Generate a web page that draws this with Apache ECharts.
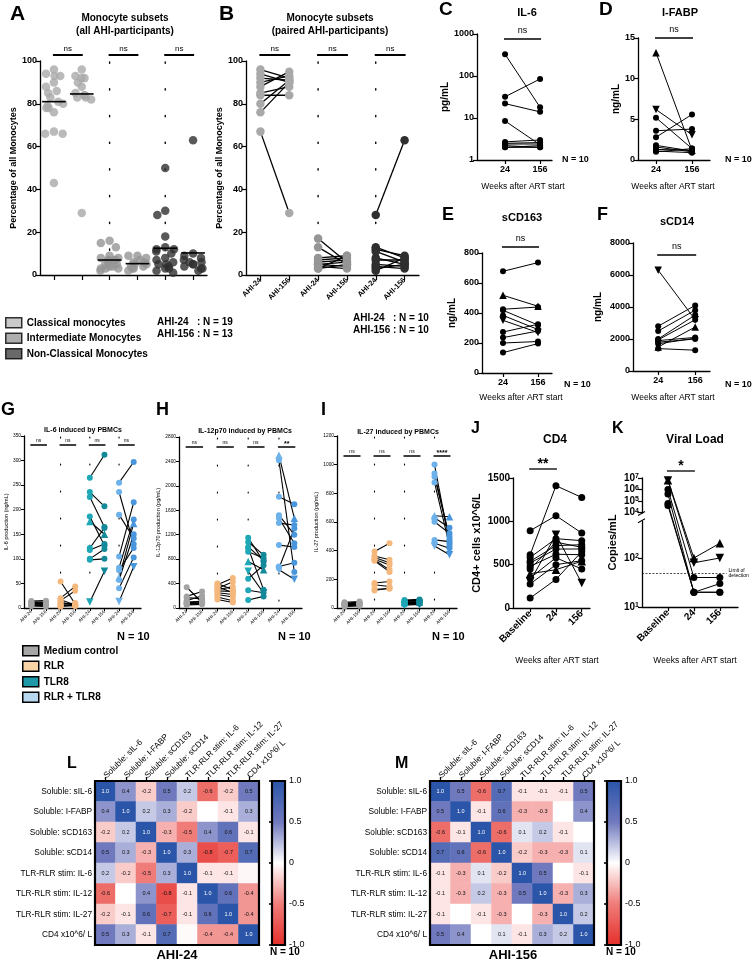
<!DOCTYPE html>
<html><head><meta charset="utf-8">
<script src="https://cdn.jsdelivr.net/npm/echarts@6/dist/echarts.min.js"></script>
<style>html,body{margin:0;padding:0;background:#fff}#c{width:753px;height:960px}</style>
</head><body><div id="c"></div>
<script>
// ================= DATA =================
const monoCats = ['AHI-24','AHI-156','AHI-24','AHI-156','AHI-24','AHI-156'];
const monoSubsets = ['Classical monocytes','Intermediate Monocytes','Non-Classical Monocytes'];
// Panel A – all AHI participants (AHI-24 N=19, AHI-156 N=13)
const aClassical24 = [96,94,93,93,90,88,86,85,83,81,80,79,78,78,76,67,66,66,43];
const aClassical156 = [96,93,92,92,90,88,85,84,84,83,83,82,29];
const aInter24 = [16,15,13,9,8,8,7,7,7,7,6,5,5,4,4,3,3,3,2];
const aInter156 = [9,9,8,7,6,6,5,5,4,4,3,3,2];
const aNonClassical24 = [50,30,28,18,13,12,12,11,10,8,7,6,5,5,4,3,3,2,1];
const aNonClassical156 = [63,10,9,8,7,6,6,5,5,4,3,3,2];
const aCentralLines = [81,84.6,7,5.3,12.5,10.3];
// Panel B – paired participants (N=10)
const bClassical24 = [96,94,92,90,88,85,84,80,76,67];
const bClassical156 = [92,90,91,93,95,88,84,91,90,29];
const bInter24 = [17,13,8,7,6,5,5,4,3,3];
const bInter156 = [6,5,9,8,7,4,6,3,5,9];
const bNonClassical24 = [28,13,12,11,8,7,5,4,3,2];
const bNonClassical156 = [63,8,9,6,5,7,4,3,5,8];
// Panels C–F (weeks 24 / 156 after ART start)
const weekCats = ['24','156'];
const cIL6_24 = [330,32,22,8.5,2.7,2.5,2.4,2.2,2.0,2.0];
const cIL6_156 = [18,85,14,2.3,3.0,2.6,2.4,2.0,2.2,2.0];
const dIFABP_24 = [13.2,6.2,5.2,3.6,2.8,1.8,1.6,1.3,1.1,1.0];
const dIFABP_156 = [1.2,3.1,1.4,3.8,5.6,1.1,1.0,1.2,0.9,1.4];
const dMarkers = ['^','v','o','o','o','o','o','o','o','o'];
const eCD163_24 = [678,518,425,418,384,351,273,236,200,136];
const eCD163_156 = [736,445,440,320,290,270,325,280,210,196];
const eMarkers = ['o','^','o','o','o','v','o','o','o','o'];
const fCD14_24 = [6300,2800,2500,2000,1950,1900,1800,1500,1400,1700];
const fCD14_156 = [3200,4100,3800,3500,3200,2100,2000,2750,1300,2050];
const fMarkers = ['v','o','o','o','o','o','o','^','o','o'];
// Panels G–I (stimulated PBMCs)
const stimNames = ['Medium control','RLR','TLR8','RLR + TLR8'];
const stimCats = ['AHI-24','AHI-156','AHI-24','AHI-156','AHI-24','AHI-156','AHI-24','AHI-156'];
const stimMarkers = ['o','o','o','o','^','o','o','o','o','v'];
const gMedium24 = [14,12,11,10,9,8,7,6,5,4], gMedium156 = [15,12,10,9,8,7,6,5,4,3];
const gRLR24 = [54,20,17,15,12,9,7,5,4,3], gRLR156 = [8,44,6,35,5,7,10,4,5,6];
const gTLR8_24 = [265,236,226,186,176,122,118,100,98,12], gTLR8_156 = [312,207,165,127,150,163,130,120,100,75];
const gBoth24 = [255,236,190,105,62,82,57,40,77,13], gBoth156 = [297,130,142,215,172,180,150,103,122,84];
const hMedium24 = [340,190,170,120,100,90,80,70,60,50], hMedium156 = [90,270,150,200,100,95,120,80,70,60];
const hRLR24 = [400,380,350,320,300,280,250,220,180,140], hRLR156 = [300,490,250,430,350,270,220,180,120,90];
const hTLR8_24 = [1150,1080,980,920,760,480,290,130,1000,600], hTLR8_156 = [760,870,300,820,625,700,250,190,780,245];
const hBoth24 = [2420,1820,1520,1470,2500,1390,1030,680,650,625], hBoth156 = [590,1700,1200,1060,1470,1360,1000,740,1300,470];
const iMedium24 = [40,35,30,25,20,15,10,30,25,20], iMedium156 = [45,40,35,30,25,20,15,35,30,25];
const iRLR24 = [394,363,352,336,330,340,174,162,130,122], iRLR156 = [452,336,315,266,252,300,185,150,134,140];
const iTLR8_24 = [55,50,45,40,38,35,30,28,25,20], iTLR8_156 = [60,55,50,45,42,40,38,35,30,25];
const iBoth24 = [1001,938,915,876,644,630,602,475,452,433], iBoth156 = [452,480,500,435,637,560,521,463,417,371];
// Panel J – CD4 counts
const timeCats = ['Baseline','24','156'];
const jBaseline = [892,615,584,538,519,480,396,346,307,277,115,450];
const jW24 = [1065,1411,800,720,680,620,442,580,846,500,330,760];
const jW156 = [865,1276,777,730,681,615,540,450,288,546,650,700];
const jMarkers = ['o','o','o','o','o','o','^','o','v','o','o','o'];
// Panel K – viral load
const kBaseline = [6.5e6,6e6,1e6,4e5,6e4,4e4];
const kW24 = [100,80,40,20,20,20];
const kW156 = [200,100,40,30,20,20];
const kMarkers = ['^','v','o','o','o','o'];
const kTicks = [10,100,1e4,1e5,1e6,1e7];
const kLimit = 50;
// Panels L, M – correlation matrices
const corrLabels = ['Soluble: sIL-6','Soluble: I-FABP','Soluble: sCD163','Soluble: sCD14','TLR-RLR stim: IL-6','TLR-RLR stim: IL-12','TLR-RLR stim: IL-27','CD4 x10^6/ L'];
const corrAHI24 = [
 [1.0,0.4,-0.2,0.5,0.2,-0.6,-0.2,0.5],
 [0.4,1.0,0.2,0.3,-0.2,0.0,-0.1,0.3],
 [-0.2,0.2,1.0,-0.3,-0.5,0.4,0.6,-0.1],
 [0.5,0.3,-0.3,1.0,0.3,-0.8,-0.7,0.7],
 [0.2,-0.2,-0.5,0.3,1.0,-0.1,-0.1,-0.03],
 [-0.6,0.0,0.4,-0.8,-0.1,1.0,0.6,-0.4],
 [-0.2,-0.1,0.6,-0.7,-0.1,0.6,1.0,-0.4],
 [0.5,0.3,-0.1,0.7,-0.02,-0.4,-0.4,1.0]];
const corrAHI156 = [
 [1.0,0.5,-0.6,0.7,-0.1,-0.1,-0.1,0.5],
 [0.5,1.0,-0.1,0.6,-0.3,-0.3,0.0,0.4],
 [-0.6,-0.1,1.0,-0.6,0.1,0.2,-0.1,0.0],
 [0.7,0.6,-0.6,1.0,-0.2,-0.3,-0.3,0.1],
 [-0.1,-0.3,0.1,-0.2,1.0,0.5,0.0,-0.1],
 [-0.1,-0.3,0.2,-0.3,0.5,1.0,-0.3,0.3],
 [-0.1,0.0,-0.1,-0.3,0.0,-0.3,1.0,0.2],
 [0.5,0.4,0.0,0.1,-0.1,0.3,0.2,1.0]];
// significance annotations
const sigA = [[0,1,'ns'],[2,3,'ns'],[4,5,'ns']];
const sigB = [[0,1,'ns'],[2,3,'ns'],[4,5,'ns']];
const sigCF = [[1,2,'ns']];
const sigG = [[0,1,'ns'],[2,3,'ns'],[4,5,'ns'],[6,7,'ns']];
const sigH = [[0,1,'ns'],[2,3,'ns'],[4,5,'ns'],[6,7,'**']];
const sigI = [[0,1,'ns'],[2,3,'ns'],[4,5,'ns'],[6,7,'****']];
const sigJ = [[1,2,'**']];
const sigK = [[1,2,'*']];

// ================= LAYOUT / STYLE =================
const FONT = '"Liberation Sans", Arial, Helvetica, sans-serif';
const monoColors = ['#a9a9a9','#959595','#2f2f2f'];
const monoLegendColors = ['#bdbdbd','#9a9a9a','#444444'];
const stim24Colors = ['#a3a3a3','#f4b77c','#1ea7b6','#6cb1ea'];
const stim156Colors = ['#a3a3a3','#f4b77c','#13899a','#4a96dc'];
const stimLegendColors = ['#a6a6a6','#f8d3a5','#1d98a6','#b7d7ee'];

const grids = [
 {left:40, top:61, width:167, height:214},   //0 A
 {left:246, top:61, width:173, height:214},  //1 B
 {left:477, top:34, width:75, height:126},   //2 C
 {left:638, top:38, width:72, height:122},   //3 D
 {left:482, top:253, width:70, height:120},  //4 E
 {left:633, top:243, width:77, height:128},  //5 F
 {left:24, top:436, width:117, height:172},  //6 G
 {left:179, top:437, width:123, height:171}, //7 H
 {left:337, top:436, width:120, height:172}, //8 I
 {left:513, top:478, width:77, height:130},  //9 J
 {left:642, top:478, width:96, height:129},  //10 K
 {left:95, top:781, width:164, height:164},  //11 L
 {left:430, top:781, width:164, height:164}, //12 M
 {left:272, top:781, width:13, height:164},  //13 L colour bar scale
 {left:607, top:781, width:14, height:164}   //14 M colour bar scale
].map(g => Object.assign({outerBoundsMode:'none', containLabel:false}, g));

const axisLineS = {show:true, lineStyle:{color:'#000', width:1.3}};
const tickS = (len, w) => ({show:true, length:len, lineStyle:{color:'#000', width:w||1.2}});
const lbl = (fs, bold, extra) => Object.assign({fontSize:fs, fontWeight:bold?'bold':'normal', color:'#000', fontFamily:FONT}, extra||{});
const plain = (v) => String(v);

const xAxes = [], yAxes = [], series = [];

function catX(gi, cats, o) {
  o = o || {};
  const ax = {gridIndex:gi, type:'category', data:cats, boundaryGap:true,
    axisLine:axisLineS, axisTick:Object.assign(tickS(o.tl||4, o.tw), {alignWithLabel:true, interval:0}),
    axisLabel: o.noLabel ? {show:false} : lbl(o.fs||7, o.bold!==false, {rotate:45, interval:0, margin:o.margin||4}),
    splitLine:{show:false}};
  if (o.jitter) { ax.jitter = o.jitter; ax.jitterOverlap = false; ax.jitterMargin = 0.5; }
  return ax;
}
// dotted separators between category groups (drawn through the axis scale)
function sepSeries(gi, positions, dash, w) {
  series.push({type:'custom', xAxisIndex:gi, yAxisIndex:gi, silent:true, z:1,
    data: positions.map(p => [p, 0]),
    renderItem: (params, api) => {
      const cs = params.coordSys;
      const x = api.coord([api.value(0), api.value(1)])[0];
      return {type:'line', shape:{x1:x, y1:cs.y + 1, x2:x, y2:cs.y + cs.height}, style:{stroke:'#000', lineWidth:w, lineDash:dash, lineCap:'round'}};
    }});
}
function valX(gi, min, max, labels, o) {
  o = o || {};
  const pos = labels.map((_, i) => i + 1);
  return {gridIndex:gi, type:'value', min:min, max:max, axisLine:axisLineS, splitLine:{show:false},
    axisTick:Object.assign(tickS(4), {customValues:pos}),
    axisLabel:lbl(o.fs||9, true, {customValues:pos, formatter:(v)=>labels[Math.round(v)-1] || '', rotate:o.rotate||0, margin:o.margin||5})};
}
function valY(gi, min, max, interval, name, o) {
  o = o || {};
  return {gridIndex:gi, type:o.type||'value', min:min, max:max, interval:interval, logBase:10,
    axisLine:axisLineS, axisTick:tickS(o.tl||4, o.tw), splitLine:{show:false},
    axisLabel:lbl(o.fs||9, o.bold!==false, {margin:o.margin||3, formatter:plain}),
    name:name, nameLocation:'middle', nameGap:o.gap||25,
    nameTextStyle:lbl(o.nfs||9, o.nbold!==false)};
}
function pairedSeries(gi, cols, o) {
  const n = cols[0].length;
  for (let p = 0; p < n; p++) {
    const m = o.markers ? o.markers[p] : 'o';
    series.push({type:'line', name:o.name, xAxisIndex:gi, yAxisIndex:gi, silent:true,
      symbol: m === 'o' ? 'circle' : 'triangle', symbolRotate: m === 'v' ? 180 : 0,
      symbolSize: m === 'o' ? o.size : o.size + 1.5, showAllSymbol:true,
      lineStyle:{color:'#000', width:o.lw||1}, itemStyle:{color:o.colors[0]},
      data: cols.map((c, t) => ({value:[o.xs ? o.xs[t] : t + 1, o.tf ? o.tf(c[p]) : c[p]], itemStyle:{color:o.colors[t]}}))});
  }
}

// ---------- A ----------
xAxes.push(catX(0, monoCats, {noLabel:true, tl:5, jitter:26}));
yAxes.push(valY(0, 0, 100, 20, 'Percentage of all Monocytes', {gap:22}));
sepSeries(0, [1.5, 3.5], [1.3, 25.4], 1.4);
[[aClassical24,aClassical156],[aInter24,aInter156],[aNonClassical24,aNonClassical156]].forEach((pair, s) => {
  series.push({type:'scatter', name:monoSubsets[s], xAxisIndex:0, yAxisIndex:0, symbolSize:8.5, silent:true,
    itemStyle:{color:monoColors[s]},
    data: pair.flatMap((arr, t) => arr.map(v => [2*s + t, v]))});
});
series.push({type:'custom', xAxisIndex:0, yAxisIndex:0, silent:true, z:5,
  data: aCentralLines.map((v, i) => [i, v]),
  renderItem: (params, api) => {
    const p = api.coord([api.value(0), api.value(1)]);
    const w = api.size([1, 0])[0] * 0.85;
    return {type:'line', shape:{x1:p[0]-w/2, y1:p[1], x2:p[0]+w/2, y2:p[1]}, style:{stroke:'#000', lineWidth:1.6}};
  }});
// ---------- B ----------
xAxes.push(catX(1, monoCats, {tl:5, fs:7.5}));
yAxes.push(valY(1, 0, 100, 20, 'Percentage of all Monocytes', {gap:22}));
sepSeries(1, [1.5, 3.5], [1.3, 25.4], 1.4);
[[bClassical24,bClassical156],[bInter24,bInter156],[bNonClassical24,bNonClassical156]].forEach((pair, s) => {
  pairedSeries(1, pair, {xs:[2*s, 2*s+1], colors:[monoColors[s], monoColors[s]], size:8.5, lw:1.3});
});
// ---------- C ----------
xAxes.push(valX(2, 0.2, 2.34, weekCats));
yAxes.push(valY(2, 1, 1000, null, 'pg/mL', {type:'log', gap:26, nfs:10}));
pairedSeries(2, [cIL6_24, cIL6_156], {colors:['#000','#000'], size:6});
// ---------- D ----------
xAxes.push(valX(3, 0.5, 2.5, weekCats));
yAxes.push(valY(3, 0, 15, 5, 'ng/mL', {gap:16, nfs:10}));
pairedSeries(3, [dIFABP_24, dIFABP_156], {colors:['#000','#000'], size:6, markers:dMarkers});
// ---------- E ----------
xAxes.push(valX(4, 0.4, 2.4, weekCats));
yAxes.push(valY(4, 0, 800, 200, 'ng/mL', {gap:25, nfs:10}));
pairedSeries(4, [eCD163_24, eCD163_156], {colors:['#000','#000'], size:6, markers:eMarkers});
// ---------- F ----------
xAxes.push(valX(5, 0.32, 2.4, weekCats));
yAxes.push(valY(5, 0, 8000, 2000, 'ng/mL', {gap:30, nfs:10}));
pairedSeries(5, [fCD14_24, fCD14_156], {colors:['#000','#000'], size:6, markers:fMarkers});
// ---------- G, H, I ----------
function stimPanel(gi, pairs) {
  sepSeries(gi, [1.5, 3.5, 5.5], [1, 26], 1.1);
  pairs.forEach((pair, k) => {
    pairedSeries(gi, pair, {name:stimNames[k], xs:[2*k, 2*k+1], colors:[stim24Colors[k], stim156Colors[k]],
      size:6, lw:1.1, markers: k >= 2 ? stimMarkers : null});
  });
}
const stimX = {fs:4.8, bold:false, tl:3, tw:1, margin:3};
xAxes.push(catX(6, stimCats, stimX));
yAxes.push(valY(6, 0, 350, 50, 'IL-6 production (ng/mL)', {fs:4.8, bold:false, nfs:5.5, nbold:false, gap:12, tl:3, tw:1}));
stimPanel(6, [[gMedium24,gMedium156],[gRLR24,gRLR156],[gTLR8_24,gTLR8_156],[gBoth24,gBoth156]]);
xAxes.push(catX(7, stimCats, stimX));
yAxes.push(valY(7, 0, 2800, 400, 'IL-12p70 production (pg/mL)', {fs:4.8, bold:false, nfs:5.5, nbold:false, gap:13, tl:3, tw:1}));
stimPanel(7, [[hMedium24,hMedium156],[hRLR24,hRLR156],[hTLR8_24,hTLR8_156],[hBoth24,hBoth156]]);
xAxes.push(catX(8, stimCats, stimX));
yAxes.push(valY(8, 0, 1200, 200, 'IL-27 production (pg/mL)', {fs:4.8, bold:false, nfs:5.5, nbold:false, gap:13, tl:3, tw:1}));
stimPanel(8, [[iMedium24,iMedium156],[iRLR24,iRLR156],[iTLR8_24,iTLR8_156],[iBoth24,iBoth156]]);
// ---------- J ----------
xAxes.push(valX(9, 0.335, 3.32, timeCats, {rotate:45, fs:10, margin:4}));
yAxes.push(valY(9, 0, 1500, 500, 'CD4+ cells x10^6/L', {fs:10, nfs:11, gap:31}));
pairedSeries(9, [jBaseline, jW24, jW156], {colors:['#000','#000','#000'], size:7, markers:jMarkers});
// ---------- K ----------
function kU(v) { const l = Math.log10(v); return l <= 3 ? l : 2.93 + (l - 4) * 0.2343; }
xAxes.push(valX(10, 0, 3.7, timeCats, {rotate:45, fs:10, margin:4}));
yAxes.push({gridIndex:10, type:'value', min:1, max:kU(1e7), axisLine:axisLineS, splitLine:{show:false},
  axisTick:Object.assign(tickS(4), {customValues:kTicks.map(kU)}),
  axisLabel:lbl(10, true, {customValues:kTicks.map(kU), margin:3,
    formatter:(v) => { let best = 0; kTicks.forEach((t, i) => { if (Math.abs(kU(t) - v) < Math.abs(kU(kTicks[best]) - v)) best = i; });
      return '{b|10}{s|' + Math.round(Math.log10(kTicks[best])) + '}'; },
    rich:{b:{fontSize:10, fontWeight:'bold', fontFamily:FONT, color:'#000'}, s:{fontSize:7, fontWeight:'bold', fontFamily:FONT, color:'#000', verticalAlign:'top', lineHeight:7}}}),
  name:'Copies/mL', nameLocation:'middle', nameGap:24, nameTextStyle:lbl(11, true)});
pairedSeries(10, [kBaseline, kW24, kW156], {colors:['#000','#000','#000'], size:7, markers:kMarkers, tf:kU});
series.push({type:'line', xAxisIndex:10, yAxisIndex:10, data:[], silent:true,
  markLine:{silent:true, symbol:'none', animation:false,
    lineStyle:{color:'#000', width:0.7, type:[2,1.5]},
    label:{show:true, position:'end', formatter:'Limit of\ndetection', fontSize:5, color:'#000', fontFamily:FONT, distance:2, align:'left'},
    data:[[{coord:[0, kU(kLimit)]}, {coord:[3.26, kU(kLimit)]}]]}});
// ---------- L, M heatmaps ----------
function heatAxes(gi) {
  xAxes.push({gridIndex:gi, type:'category', data:corrLabels, position:'top',
    axisLine:{show:true, lineStyle:{color:'#000', width:2}},
    axisTick:{show:true, alignWithLabel:true, length:4, lineStyle:{color:'#000', width:1.3}},
    axisLabel:lbl(8.3, false, {rotate:-45, interval:0, margin:4}), splitLine:{show:false}});
  yAxes.push({gridIndex:gi, type:'category', data:corrLabels, inverse:true,
    axisLine:{show:true, lineStyle:{color:'#000', width:2}}, axisTick:{show:false},
    axisLabel:lbl(8.3, false, {interval:0, margin:3}), splitLine:{show:false}});
}
function heatSeries(gi, mat) {
  const data = [];
  mat.forEach((row, r) => row.forEach((v, c) => data.push([c, r, v])));
  series.push({type:'heatmap', xAxisIndex:gi, yAxisIndex:gi, data:data, silent:true,
    itemStyle:{borderWidth:0},
    label:{show:true, fontSize:5.5, fontFamily:FONT,
      formatter:(p) => { const v = p.value[2]; if (Math.abs(v) < 0.05) return ''; const s = v.toFixed(1); return v >= 0.85 ? '{w|' + s + '}' : '{k|' + s + '}'; },
      rich:{w:{color:'#fff', fontSize:5.5, fontFamily:FONT}, k:{color:'#111', fontSize:5.5, fontFamily:FONT}}}});
  return series.length - 1;
}
heatAxes(11); const idxL = heatSeries(11, corrAHI24);
heatAxes(12); const idxM = heatSeries(12, corrAHI156);
// colour-bar scale axes
[13, 14].forEach(gi => {
  xAxes.push({gridIndex:gi, type:'value', show:false, min:0, max:1});
  yAxes.push({gridIndex:gi, type:'value', min:-1, max:1, interval:0.5, position:'right',
    axisLine:{show:false}, splitLine:{show:false},
    axisTick:{show:true, inside:true, length:3, lineStyle:{color:'#000', width:1.6}},
    axisLabel:lbl(9, false, {margin:4, formatter:(v) => v === 0 ? '0' : v.toFixed(1)})});
  series.push({type:'scatter', xAxisIndex:gi, yAxisIndex:gi, data:[], silent:true});
});
const heatColors = ['#e5302b','#ef7c79','#ffffff','#7079be','#2a55a8'];
const visualMaps = [
  {type:'continuous', seriesIndex:idxL, min:-1, max:1, left:272, top:781, itemWidth:13, itemHeight:164, calculable:false, padding:0, text:null, orient:'vertical', inRange:{color:heatColors}, hoverLink:false},
  {type:'continuous', seriesIndex:idxM, min:-1, max:1, left:607, top:781, itemWidth:14, itemHeight:164, calculable:false, padding:0, text:null, orient:'vertical', inRange:{color:heatColors}, hoverLink:false}
];

const option = {
  animation:false,
  backgroundColor:'#fff',
  textStyle:{fontFamily:FONT},
  grid:grids, xAxis:xAxes, yAxis:yAxes, series:series, visualMap:visualMaps,
  legend:[
    {orient:'vertical', left:5, top:317, padding:0, itemGap:4, itemWidth:16, itemHeight:10, icon:'rect', selectedMode:false,
     textStyle:lbl(10, true),
     data: monoSubsets.map((n, i) => ({name:n, itemStyle:{color:monoLegendColors[i], borderColor:'#000', borderWidth:1.5}}))},
    {orient:'vertical', left:22, top:645, padding:0, itemGap:4, itemWidth:16, itemHeight:10, icon:'rect', selectedMode:false,
     textStyle:lbl(10, true),
     data: stimNames.map((n, i) => ({name:n, itemStyle:{color:stimLegendColors[i], borderColor:'#000', borderWidth:1.5}}))}
  ]
};

const chart = echarts.init(document.getElementById('c'), null, {renderer:'canvas', width:753, height:960});
chart.setOption(option);

// ================= ANNOTATIONS =================
const G = [];
function txt(x, y, text, size, bold, align, vAlign) {
  G.push({type:'text', x:x, y:y, silent:true, z:100,
    style:{text:text, font:(bold ? 'bold ' : '') + size + 'px ' + FONT, fill:'#000',
      textAlign:align || 'center', textVerticalAlign:vAlign || 'middle', align:align || 'center', verticalAlign:vAlign || 'middle'}});
}
function seg(x1, y1, x2, y2, w, dash) {
  G.push({type:'line', silent:true, z:100, shape:{x1:x1, y1:y1, x2:x2, y2:y2}, style:{stroke:'#000', lineWidth:w, lineDash:dash || null}});
}
// panel letters
[['A',10,14.5,21],['B',219,14.5,21],['C',439,10,19],['D',599,10,19],['E',442,215,18],['F',597,215,18],
 ['G',1,410,18],['H',156,410,18],['I',321,410,18],['J',471,429,16],['K',612,429,16],['L',67,764,16],['M',395,764,16]]
 .forEach(l => txt(l[1], l[2], l[0], l[3], true, 'left'));
// titles
txt(125, 18.5, 'Monocyte subsets', 10, true); txt(125, 31, '(all AHI-participants)', 10, true);
txt(330, 18.5, 'Monocyte subsets', 10, true); txt(330, 31, '(paired AHI-participants)', 10, true);
txt(527, 13, 'IL-6', 11, true); txt(680, 13, 'I-FABP', 11, true);
txt(522, 218, 'sCD163', 11, true); txt(677, 222, 'sCD14', 11, true);
txt(83, 430, 'IL-6 induced by PBMCs', 7, true); txt(245, 431, 'IL-12p70 induced by PBMCs', 7, true); txt(398, 432, 'IL-27 induced by PBMCs', 7, true);
txt(555, 440, 'CD4', 12, true); txt(695, 440, 'Viral Load', 12, true);
txt(177, 955, 'AHI-24', 13, true); txt(513, 955, 'AHI-156', 13, true);
// N annotations
txt(157, 322, 'AHI-24   : N = 19', 10, true, 'left'); txt(157, 334, 'AHI-156 : N = 13', 10, true, 'left');
txt(353, 318, 'AHI-24   : N = 10', 10, true, 'left'); txt(353, 330, 'AHI-156 : N = 10', 10, true, 'left');
txt(562, 160, 'N = 10', 9, true, 'left'); txt(725, 160, 'N = 10', 9, true, 'left');
txt(564, 385, 'N = 10', 9, true, 'left'); txt(725, 385, 'N = 10', 9, true, 'left');
txt(117, 637, 'N = 10', 11, true, 'left'); txt(278, 637, 'N = 10', 11, true, 'left'); txt(432, 637, 'N = 10', 11, true, 'left');
txt(270, 952, 'N = 10', 10, true, 'left'); txt(606, 952, 'N = 10', 10, true, 'left');
// x axis titles
[[523,187],[673,187],[521,398],[673,398],[557,661],[695,661]].forEach(p => txt(p[0], p[1], 'Weeks after ART start', 8.5, false));
// significance bars (x from the axes' own scales)
const sigDefs = [
  {gi:0, bars:sigA, dy:-6, fs:8, lw:2, tg:6.5},
  {gi:1, bars:sigB, dy:-6, fs:8, lw:2, tg:6.5},
  {gi:2, bars:sigCF, dy:5, fs:9, lw:1.3, tg:8},
  {gi:3, bars:sigCF, dy:0, fs:9, lw:1.3, tg:8},
  {gi:4, bars:sigCF, dy:-6, fs:9, lw:1.3, tg:8},
  {gi:5, bars:sigCF, dy:12, fs:9, lw:1.3, tg:8},
  {gi:6, bars:sigG, dy:9, fs:5, lw:1.5, tg:4.5},
  {gi:7, bars:sigH, dy:10, fs:5, lw:1.5, tg:4.5},
  {gi:8, bars:sigI, dy:20, fs:5, lw:1.5, tg:4.5},
  {gi:9, bars:sigJ, dy:-9, fs:12, lw:1.3, tg:6},
  {gi:10, bars:sigK, dy:-7, fs:12, lw:1.3, tg:6}
];
sigDefs.forEach(d => {
  const y = grids[d.gi].top + d.dy;
  d.bars.forEach(b => {
    const x1 = chart.convertToPixel({xAxisIndex:d.gi}, b[0]);
    const x2 = chart.convertToPixel({xAxisIndex:d.gi}, b[1]);
    seg(x1 - 1, y, x2 + 1, y, d.lw);
    const star = b[2].indexOf('*') >= 0;
    txt((x1 + x2) / 2, y - d.tg + (star ? 1.5 : 0), b[2], star ? d.fs + 2 : d.fs, star, 'center');
  });
});
// axis break on the viral-load axis
(function () {
  const yb1 = chart.convertToPixel({yAxisIndex:10}, kU(550));
  const yb2 = chart.convertToPixel({yAxisIndex:10}, kU(1e4));
  const x0 = grids[10].left;
  G.push({type:'rect', silent:true, z:99, shape:{x:x0 - 3, y:yb2 + 1, width:6, height:yb1 - yb2 - 2}, style:{fill:'#fff'}});
  seg(x0 - 4, yb2 + 3, x0 + 3, yb2 - 1, 1.1);
  seg(x0 - 4, yb1 + 1, x0 + 3, yb1 - 3, 1.1);
})();
// heatmap frames
[11, 12, 13, 14].forEach(gi => { const g = grids[gi]; G.push({type:'rect', silent:true, z:100, shape:{x:g.left, y:g.top, width:g.width, height:g.height}, style:{fill:null, stroke:'#000', lineWidth:2.2}}); });

chart.setOption({graphic:{elements:G}});
</script>
</body></html>
